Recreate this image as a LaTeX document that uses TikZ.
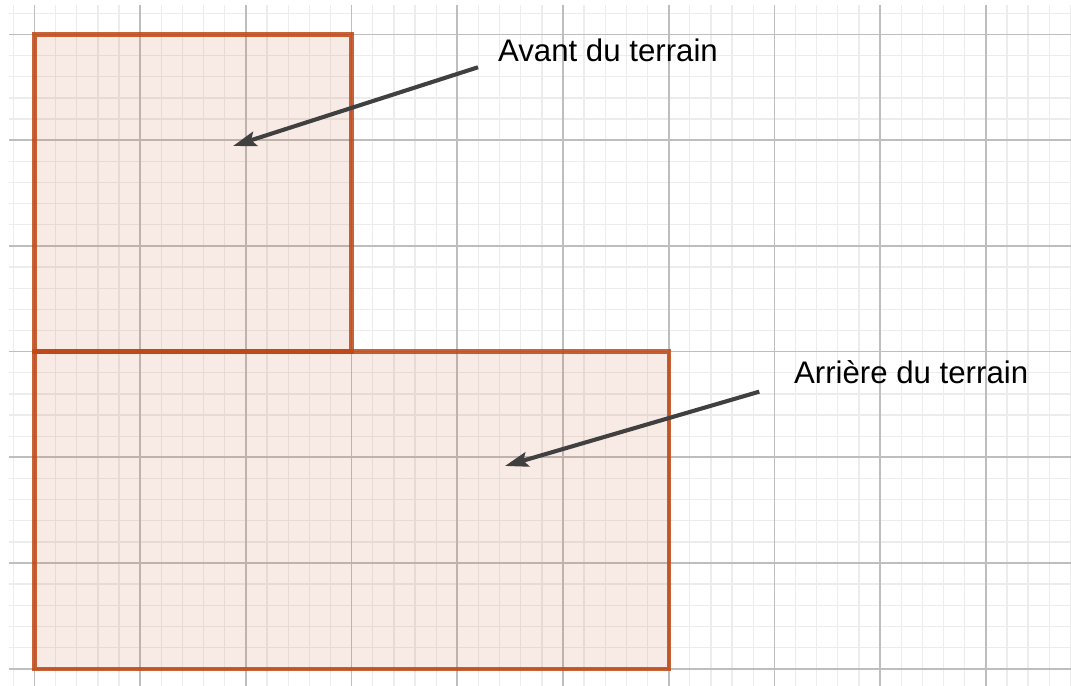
\documentclass[tikz,border=0pt]{standalone}
\usepackage{fontspec}
\setmainfont{Liberation Sans}
\usetikzlibrary{arrows.meta}
\definecolor{minorgrid}{RGB}{236,236,236}
\definecolor{majorgrid}{RGB}{190,190,190}
\definecolor{plotstroke}{RGB}{190,70,20}
\definecolor{plotfill}{RGB}{200,90,50}
\definecolor{arrowcol}{RGB}{64,64,64}
\tikzset{
  zone/.style={draw=plotstroke, draw opacity=0.85, line width=1.15pt, fill=plotfill, fill opacity=0.13, line join=miter},
  pointer/.style={draw=arrowcol, line width=1.1pt, -{Stealth[length=0.22cm,width=0.14cm,inset=0.04cm]}},
  caption/.style={font=\fontsize{8.4}{10}\selectfont, text=black, inner sep=0pt, anchor=base west}
}
\begin{document}
\begin{tikzpicture}
\useasboundingbox (-0.3264,-0.1608) rectangle (9.8060,6.3264);
% grid
\begin{scope}
\clip (-0.241,-0.1608) rectangle (9.8060,6.279);
\draw[minorgrid, line width=0.35pt] (-0.4,-0.4) grid[step=0.2] (10,6.4);
\draw[majorgrid, line width=0.45pt] (-1,-1) grid[step=1] (10,7);
\end{scope}
% zones
\draw[zone] (0,3) rectangle (3,6);
\draw[zone] (0,0) rectangle (6,3);
% labels
\node[caption] (avant) at (4.379,5.743) {Avant du terrain};
\node[caption] (arriere) at (7.179,2.700) {Arrière du terrain};
% arrow endpoints
\coordinate (s1) at (4.196,5.690);
\coordinate (t1) at (1.878,4.945);
\coordinate (s2) at (6.857,2.621);
\coordinate (t2) at (4.451,1.918);
\draw[pointer] (s1) -- (t1);
\draw[pointer] (s2) -- (t2);
\end{tikzpicture}
\end{document}
